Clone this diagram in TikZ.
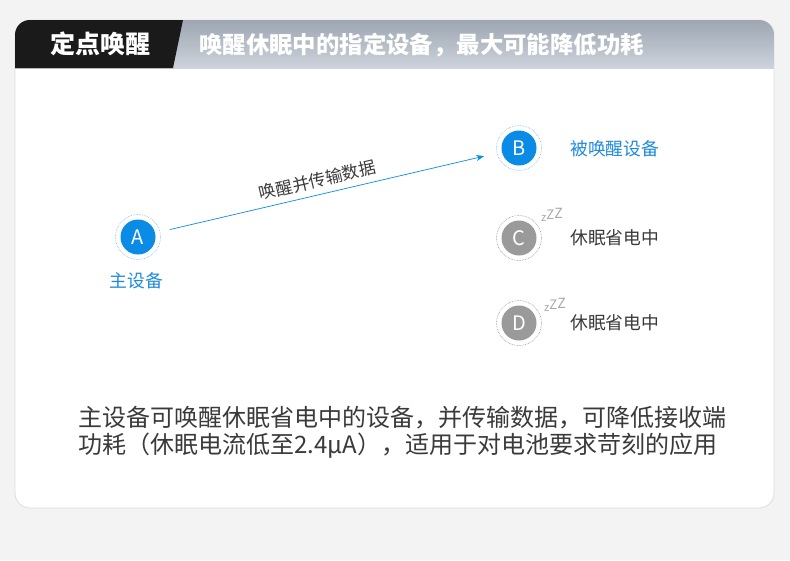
\documentclass[tikz,border=0pt]{standalone}
\usepackage{fontspec}
\setmainfont{Noto Sans CJK SC}
\usetikzlibrary{arrows.meta}
\definecolor{pagebg}{HTML}{F3F3F3}
\definecolor{cardline}{HTML}{DDDDDD}
\definecolor{hdtop}{HTML}{9DA6B2}
\definecolor{hdbot}{HTML}{CDD3DB}
\definecolor{hdblack}{HTML}{1A1A1A}
\definecolor{nodeblue}{HTML}{0A8BE6}
\definecolor{labblue}{HTML}{1F8AE0}
\definecolor{nodegray}{HTML}{9A9A9A}
\definecolor{txtdark}{HTML}{3A3A3A}
\definecolor{zgray}{HTML}{A8A8A8}
\tikzset{
  dev/.style={circle, minimum size=35pt, inner sep=0pt, text=white, font=\fontsize{20}{20}\selectfont},
  bluedev/.style={dev, fill=nodeblue},
  graydev/.style={dev, fill=nodegray},
  bluering/.style={circle, minimum size=45pt, inner sep=0pt, draw=nodeblue!60, densely dotted, line width=0.6pt},
  grayring/.style={circle, minimum size=45pt, inner sep=0pt, draw=gray!90, densely dotted, line width=0.6pt},
  bluelab/.style={text=labblue, font=\fontsize{17.8}{17.8}\selectfont, inner sep=0pt},
  darklab/.style={text=txtdark, font=\fontsize{17.8}{17.8}\selectfont, inner sep=0pt, anchor=west},
  zzz/.style={text=zgray, inner sep=0pt, anchor=base west},
  body/.style={text=txtdark, font=\fontsize{24}{24}\selectfont, inner sep=0pt, anchor=west}
}
\begin{document}
\begin{tikzpicture}[x=1pt,y=-1pt]
\useasboundingbox (0,0) rectangle (790,560);
\fill[pagebg] (0,0) rectangle (790,560);
% card
\fill[white, draw=cardline, line width=0.8pt, rounded corners=15pt] (15,20) rectangle (774,508);
\begin{scope}
  \clip[rounded corners=15pt] (15,20) rectangle (774,508);
  \shade[top color=hdtop, bottom color=hdbot] (15,20) rectangle (774,68);
  \fill[hdblack] (15,20) -- (183,20) -- (173,68) -- (15,68) -- cycle;
\end{scope}
\node[text=white, font=\fontsize{25}{25}\selectfont\bfseries, inner sep=0pt] (title) at (100,44) {定点唤醒};
\node[text=white, font=\fontsize{23.4}{23.4}\selectfont\bfseries, inner sep=0pt, anchor=west] (subtitle) at (199,45) {唤醒休眠中的指定设备，最大可能降低功耗};
% devices
\node[bluering] (Ar) at (138,237) {};
\node[bluedev] (A) at (138,237) {A};
\node[bluering] (Br) at (519,148) {};
\node[bluedev] (B) at (519,148) {B};
\node[grayring] (Cr) at (519,238) {};
\node[graydev] (C) at (519,238) {C};
\node[grayring] (Dr) at (519,323) {};
\node[graydev] (D) at (519,323) {D};
% labels
\node[bluelab] (Alab) at (136.5,281) {主设备};
\node[bluelab, anchor=west] (Blab) at (570,149) {被唤醒设备};
\node[darklab] (Clab) at (570,238) {休眠省电中};
\node[darklab] (Dlab) at (570,323) {休眠省电中};
\node[zzz] (Cz) at (541,221) {\fontsize{11}{11}\selectfont z\raisebox{1.5pt}{\fontsize{13}{13}\selectfont Z}\raisebox{3pt}{\fontsize{14}{14}\selectfont Z}};
\node[zzz] (Dz) at (544,311) {\fontsize{11}{11}\selectfont z\raisebox{1.5pt}{\fontsize{13}{13}\selectfont Z}\raisebox{3pt}{\fontsize{14}{14}\selectfont Z}};
% arrow
\draw[nodeblue, line width=0.7pt, -{Stealth[length=8pt,width=6pt]}, shorten <=10pt, shorten >=13pt] (Ar) -- (Br)
  node[midway, sloped, above=3pt, text=txtdark, font=\fontsize{17}{17}\selectfont, xshift=-8pt] (arrlab) {唤醒并传输数据};
% body text
\node[body] (line1) at (78,418) {主设备可唤醒休眠省电中的设备，并传输数据，可降低接收端};
\node[body] (line2) at (78,446) {功耗（休眠电流低至2.4μA），适用于对电池要求苛刻的应用};
\end{tikzpicture}
\end{document}
